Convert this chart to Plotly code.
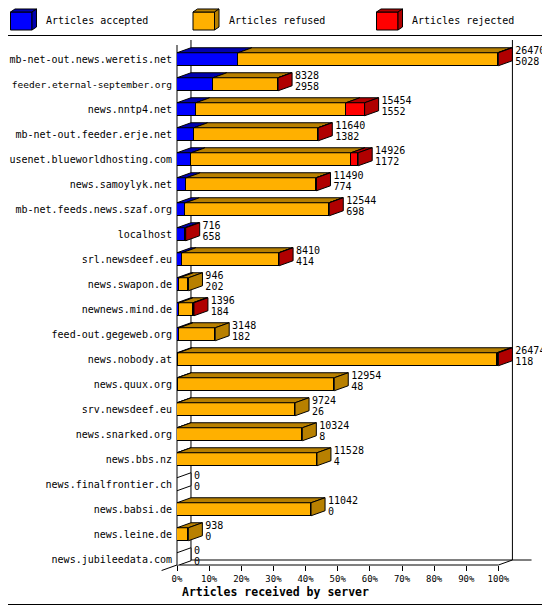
import plotly.graph_objects as go

# servers, top to bottom as in the chart
hosts = ['mb-net-out.news.weretis.net', 'feeder.eternal-september.org', 'news.nntp4.net',
         'mb-net-out.feeder.erje.net', 'usenet.blueworldhosting.com', 'news.samoylyk.net',
         'mb-net.feeds.news.szaf.org', 'localhost', 'srl.newsdeef.eu', 'news.swapon.de',
         'newnews.mind.de', 'feed-out.gegeweb.org', 'news.nobody.at', 'news.quux.org',
         'srv.newsdeef.eu', 'news.snarked.org', 'news.bbs.nz', 'news.finalfrontier.ch',
         'news.babsi.de', 'news.leine.de', 'news.jubileedata.com']

# articles offered (upper number) and accepted (lower number)
total = [26470, 8328, 15454, 11640, 14926, 11490, 12544, 716, 8410, 946,
         1396, 3148, 26474, 12954, 9724, 10324, 11528, 0, 11042, 938, 0]
accepted = [5028, 2958, 1552, 1382, 1172, 774, 698, 658, 414, 202,
            184, 182, 118, 48, 26, 8, 4, 0, 0, 0, 0]
# rejected read from the red part of the bars (estimated)
rejected = [64, 20, 1536, 30, 598, 40, 30, 58, 40, 0,
            90, 0, 120, 0, 0, 0, 0, 0, 0, 0, 0]
refused = [t - a - r for t, a, r in zip(total, accepted, rejected)]

xticks = [0, 10, 20, 30, 40, 50, 60, 70, 80, 90, 100]
xticklabels = ['0%', '10%', '20%', '30%', '40%', '50%', '60%', '70%', '80%', '90%', '100%']

series = [('Articles accepted', accepted, '#0000ff', '#0000b0'),
          ('Articles refused', refused, '#ffb000', '#b88000'),
          ('Articles rejected', rejected, '#ff0000', '#b00000')]

FONT = 'DejaVu Sans Mono'
OFF = 8            # page body margin, everything is laid out 8px up/left
W, H = 550 - OFF, 605 - OFF
L, T = 177 - OFF, 40 - OFF
PW, PH = 360, 525  # plot area size
R, B = W - L - PW, H - T - PH
XMAX = 112
YR = [20.23, -0.77]
DX = 4.35   # 3d depth in x (data units)
DY = 0.2    # 3d depth in y (category units)
BH = 0.52   # bar thickness

top = max(total)
pct = lambda v: v / top * 100
ys = list(range(len(hosts)))

# the longest name would run into the page margin, shrink it a little
ticktext = [f'<span style="font-size:9.5px">{h}</span>' if len(h) > 27 else h for h in hosts]

fig = go.Figure()

# front faces
for name, vals, col, dark in series:
    fig.add_trace(go.Bar(y=ys, x=[pct(v) for v in vals], orientation='h', width=BH,
                         marker=dict(color=col, line=dict(color='black', width=1)),
                         name=name, showlegend=False, hoverinfo='skip'))

# top faces and side faces
tops = {s[0]: ([], []) for s in series}
sides = {s[0]: ([], []) for s in series}
sides['none'] = ([], [])
for i in ys:
    start = 0
    last = 'none'
    for name, vals, col, dark in series:
        w = pct(vals[i])
        if w > 0:
            yt = i - BH / 2
            xs, yy = tops[name]
            xs += [start, start + w, start + w + DX, start + DX, start, None]
            yy += [yt, yt, yt - DY, yt - DY, yt, None]
            last = name
        start += w
    xs, yy = sides[last]
    yt, yb = i - BH / 2, i + BH / 2
    xs += [start, start + DX, start + DX, start, start, None]
    yy += [yt, yt - DY, yb - DY, yb, yt, None]

darks = {s[0]: s[3] for s in series}
darks['none'] = 'white'
for key, (xs, yy) in list(tops.items()) + list(sides.items()):
    if not xs:
        continue
    fig.add_trace(go.Scatter(x=xs, y=yy, mode='lines', fill='toself', fillcolor=darks[key],
                             line=dict(color='black', width=1), showlegend=False,
                             hoverinfo='skip'))

# value labels right of each bar
ends = [pct(t) + DX + 0.9 for t in total]
fig.add_trace(go.Scatter(x=ends, y=[i - 0.33 for i in ys], mode='text',
                         text=[str(t) for t in total], textposition='middle right',
                         textfont=dict(family=FONT, size=10, color='black'),
                         cliponaxis=False, showlegend=False, hoverinfo='skip'))
fig.add_trace(go.Scatter(x=ends, y=[i + 0.11 for i in ys], mode='text',
                         text=[str(a) for a in accepted], textposition='middle right',
                         textfont=dict(family=FONT, size=10, color='black'),
                         cliponaxis=False, showlegend=False, hoverinfo='skip'))

# helpers: data / reference pixel -> paper
def dx2p(x):
    return x / XMAX

def dy2p(y):
    return (YR[0] - y) / (YR[0] - YR[1])

def px2p(x):
    return (x - OFF - L) / PW

def py2p(y):
    return (T + PH - (y - OFF)) / PH

def line(x0, y0, x1, y1):
    fig.add_shape(type='line', xref='paper', yref='paper', x0=x0, y0=y0, x1=x1, y1=y1,
                  line=dict(color='black', width=1), layer='below')

# 3d frame: back wall and floor
floor_f, floor_b = YR[0], YR[0] - DY
line(dx2p(0), dy2p(YR[1] + DY), dx2p(0), dy2p(floor_f))
line(dx2p(DX), dy2p(YR[1]), dx2p(DX), dy2p(floor_b))
line(dx2p(100 + DX), dy2p(YR[1]), dx2p(100 + DX), dy2p(floor_b))
line(dx2p(DX), dy2p(floor_b), dx2p(110.3), dy2p(floor_b))
line(dx2p(0), dy2p(floor_f), dx2p(100), dy2p(floor_f))
line(dx2p(100), dy2p(floor_f), dx2p(100 + DX), dy2p(floor_b))
line(dx2p(-DX * 1.1), dy2p(floor_f + DY * 1.1), dx2p(DX), dy2p(floor_b))

# legend with little cubes
legend_x = [10.5, 193, 376.5]
for (name, vals, col, dark), lx in zip(series, legend_x):
    x0, x1, y0, y1 = lx, lx + 21.5, 12, 30
    d, e = 4.5, 3
    fig.add_shape(type='rect', xref='paper', yref='paper', x0=px2p(x0), x1=px2p(x1),
                  y0=py2p(y0), y1=py2p(y1), fillcolor=col, line=dict(color='black', width=1))
    for pts in ([(x0, y0), (x1, y0), (x1 + d, y0 - e), (x0 + d, y0 - e)],
                [(x1, y0), (x1 + d, y0 - e), (x1 + d, y1 - e), (x1, y1)]):
        path = 'M ' + ' L '.join(f'{px2p(a):.5f},{py2p(b):.5f}' for a, b in pts) + ' Z'
        fig.add_shape(type='path', xref='paper', yref='paper', path=path, fillcolor=dark,
                      line=dict(color='black', width=1))
    fig.add_annotation(x=px2p(x1 + d + 7.5), y=py2p(20.5), xref='paper', yref='paper',
                       text=name, showarrow=False, xanchor='left', yanchor='middle',
                       font=dict(family=FONT, size=10, color='black'))

# legend separator and outer border
fig.add_shape(type='line', xref='paper', yref='paper', x0=px2p(8), x1=px2p(550),
              y0=py2p(35.5), y1=py2p(35.5), line=dict(color='black', width=1))
fig.add_shape(type='rect', xref='paper', yref='paper', x0=px2p(0.5), x1=px2p(549.5),
              y0=py2p(0.5), y1=py2p(604.5), line=dict(color='black', width=1))

fig.add_annotation(x=px2p(180), y=py2p(592), xref='paper', yref='paper',
                   text='<b>Articles received by server</b>', showarrow=False,
                   xanchor='left', yanchor='middle',
                   font=dict(family=FONT, size=11.5, color='black'))

fig.update_layout(
    width=W, height=H, barmode='stack', bargap=0,
    margin=dict(l=L, r=R, t=T, b=B, pad=0, autoexpand=False),
    paper_bgcolor='white', plot_bgcolor='white', showlegend=False,
    xaxis=dict(range=[0, XMAX], tickvals=xticks, ticktext=xticklabels, ticks='outside',
               ticklen=5, tickcolor='black', showgrid=False, zeroline=False, showline=False,
               automargin=False, tickfont=dict(family=FONT, size=9, color='black'),
               fixedrange=True),
    yaxis=dict(range=YR, tickvals=ys, ticktext=ticktext, ticks='', showgrid=False,
               zeroline=False, showline=False, ticklabelstandoff=4, automargin=False,
               tickfont=dict(family=FONT, size=10, color='black'), fixedrange=True),
)

fig.write_html("out.html")
